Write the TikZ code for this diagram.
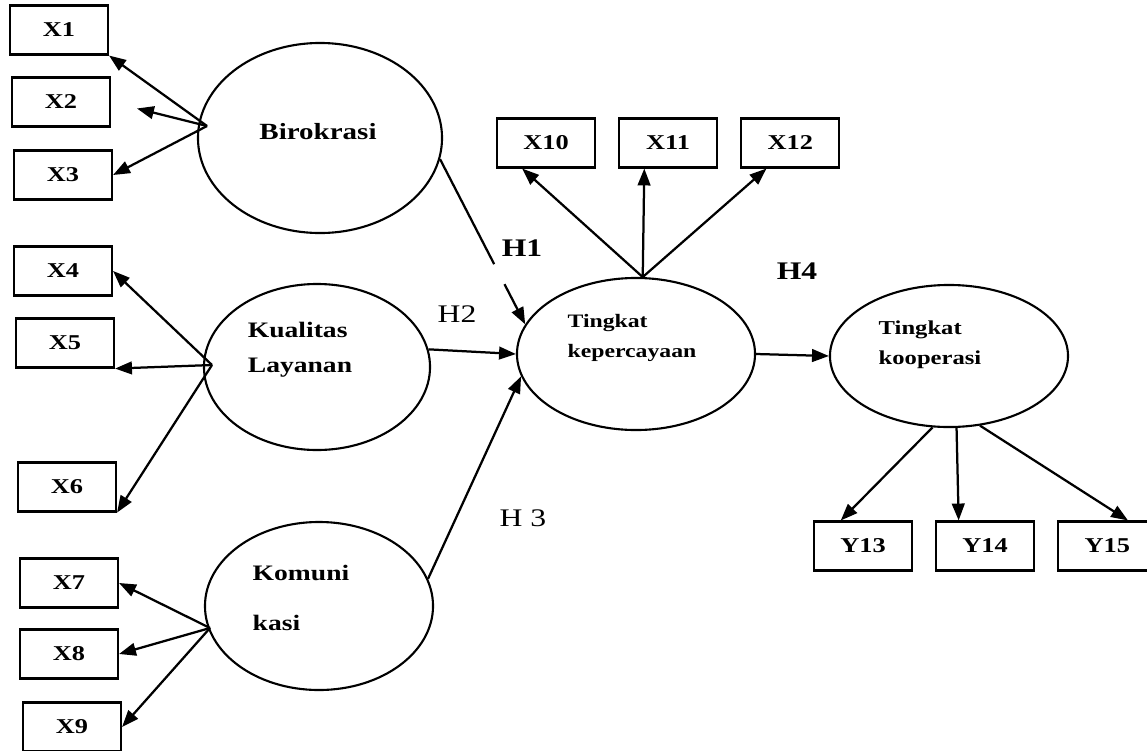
\documentclass[tikz,border=0pt]{standalone}
\usepackage{fontspec}
\setmainfont{Liberation Serif}
\usepackage{graphicx}
\usepackage{tikz}
\usetikzlibrary{shapes}
\usetikzlibrary{positioning}
\usetikzlibrary{arrows.meta}
\tikzstyle{latent} = [ellipse, draw=black, line width=1.5pt, inner sep=0pt]
\tikzstyle{indic} = [rectangle, draw=black, line width=1.5pt, inner sep=0pt,
minimum width=2.45cm, minimum height=1.225cm, font=\fontsize{15}{15}\selectfont\bfseries]
\tikzstyle{ltext} = [align=left, inner sep=0pt, font=\bfseries]
\tikzstyle{hyp} = [inner sep=0pt, font=\fontsize{18}{18}\selectfont]
\tikzset{>={Triangle[length=12pt,width=9pt]}}
% widened text, the scan is stretched sideways
\newcommand{\wt}[1]{\scalebox{1.25}[1]{#1}}
\newcommand{\loading}[3][]{ %
  % arrows from one point to every indicator in #3
  \foreach \t in {#3} { %
    \draw[->,line width=1.6pt,#1] (#2) -- (\t) ; %
  } ;
}

\begin{document}
\begin{tikzpicture}[x=0.025cm, y=-0.025cm]
                \useasboundingbox (0,0) rectangle (1147,751);

                \node[latent, minimum width=6.1cm, minimum height=4.75cm,
                  label={[ltext, xshift=-0.05cm, yshift=0.15cm, font=\fontsize{16.5}{16.5}\selectfont\bfseries]center:{\wt{Birokrasi}}}] (biro) at (320,138) {} ; %
                \node[latent, minimum width=5.65cm, minimum height=4.15cm,
                  label={[ltext, xshift=-0.425cm, yshift=0.425cm, font=\fontsize{15.7}{25}\selectfont\bfseries]center:{\wt{Kualitas}\\\wt{Layanan}}}] (kual) at (317,367) {} ; %
                \node[latent, minimum width=5.7cm, minimum height=4.2cm,
                  label={[ltext, xshift=-0.45cm, yshift=0.2cm, font=\fontsize{15.7}{35.5}\selectfont\bfseries]center:{\wt{Komuni}\\\wt{kasi}}}] (komu) at (319,606) {} ; %
                \node[latent, minimum width=5.95cm, minimum height=3.8cm,
                  label={[ltext, xshift=-0.1cm, yshift=0.4cm, font=\fontsize{13.5}{21}\selectfont\bfseries]center:{\wt{Tingkat}\\\wt{kepercayaan}}}] (perc) at (636,354) {} ; %
                \node[latent, minimum width=5.95cm, minimum height=3.55cm,
                  label={[ltext, xshift=-0.475cm, yshift=0.275cm, font=\fontsize{14}{21}\selectfont\bfseries]center:{\wt{Tingkat}\\\wt{kooperasi}}}] (koop) at (949,356) {} ; %

                \node[indic] (x1) at (59,30) {\wt{X1}} ; %
                \node[indic] (x2) at (61,102) {\wt{X2}} ; %
                \node[indic] (x3) at (63,175) {\wt{X3}} ; %
                \node[indic] (x4) at (63,271) {\wt{X4}} ; %
                \node[indic] (x5) at (65,343) {\wt{X5}} ; %
                \node[indic] (x6) at (67,487) {\wt{X6}} ; %
                \node[indic] (x7) at (69,583) {\wt{X7}} ; %
                \node[indic] (x8) at (69,654) {\wt{X8}} ; %
                \node[indic] (x9) at (72,727) {\wt{X9}} ; %

                \node[indic] (x10) at (546,143) {\wt{X10}} ; %
                \node[indic, right=0.55cm of x10] (x11) {\wt{X11}} ; %
                \node[indic, right=0.55cm of x11] (x12) {\wt{X12}} ; %

                \node[indic] (y13) at (863,546) {\wt{Y13}} ; %
                \node[indic, right=0.55cm of y13] (y14) {\wt{Y14}} ; %
                \node[indic, right=0.55cm of y14] (y15) {\wt{Y15}} ; %

                \node[hyp] (h1) at (522,248) {\textbf{\wt{H1}}} ; %
                \node[hyp] (h2) at (457,314) {\wt{H2}} ; %
                \node[hyp] (h3) at (523,518) {\wt{H 3}} ; %
                \node[hyp] (h4) at (797,271) {\textbf{\wt{H4}}} ; %

                \coordinate (birofan) at (207,126) ; %
                \coordinate (kualfan) at (212,365) ; %
                \coordinate (komufan) at (210,628) ; %

                \loading {birofan} {x1.south east, x3.east} ;
                \loading[shorten >=19pt] {birofan} {x2.east} ;
                \loading {kualfan} {x4.east, x5.south east, x6.south east} ;
                \loading {komufan} {x7.east, x8.east, x9.east} ;
                \loading {perc.85} {x10.227, x11.227, x12.227} ;
                \loading {koop.257} {y13.131} ;
                \loading {koop.276} {y14.136} ;
                \loading {koop.294} {y15.51} ;

                %\draw[->] (biro) -- (perc);
                \draw[->, line width=1.6pt, dash pattern=on 84pt off 16pt on 300pt] (biro.-10) -- (perc.165) ;
                \draw[->, line width=1.6pt] (kual.9) -- (perc.west) ;
                \draw[->, line width=1.6pt] (komu.14) -- (perc.191) ;
                \draw[->, line width=1.6pt] (perc.east) -- (koop.west) ;
            \end{tikzpicture}
\end{document}
